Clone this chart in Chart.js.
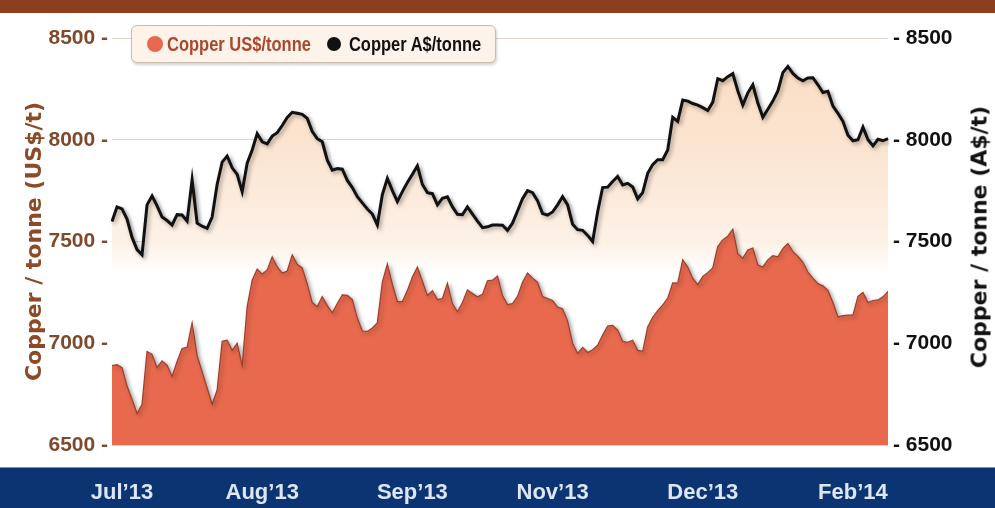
<!DOCTYPE html>
<html>
<head>
<meta charset="utf-8">
<script src="https://cdn.jsdelivr.net/npm/chart.js@4.4.1/dist/chart.umd.min.js"></script>
<style>
  body { margin: 0; background: #fff; }
  #wrap { position: relative; width: 995px; height: 508px; overflow: hidden; }
  #legend {
    position: absolute; left: 131px; top: 25px; width: 365px; height: 38px;
    box-sizing: border-box; background: #fdf3ea; border: 1px solid #cdbcaa;
    border-radius: 6px; box-shadow: 1px 2px 3px rgba(0,0,0,0.18);
    font: bold 16.5px "Liberation Sans", Arial, sans-serif; white-space: nowrap;
    display: flex; align-items: center; padding-left: 15px;
  }
  #legend .txt { display: inline-block; transform: scaleY(1.2); }
  .dot { display: inline-block; border-radius: 50%; }
  #rtitle {
    position: absolute; left: 979px; top: 237px;
    transform: translate(-50%, -50%) rotate(-90deg);
    white-space: nowrap; font: bold 22px "DejaVu Sans", sans-serif; color: #111;
  }
</style>
</head>
<body>
<div id="wrap">
  <canvas id="myChart"></canvas>
  <div id="legend">
    <span class="dot" style="width:16px;height:16px;background:#e8694e;margin-right:4px"></span>
    <span class="txt" style="color:#a9482b">Copper US$/tonne</span>
    <span class="dot" style="width:14px;height:14px;background:#111;margin-left:16px;margin-right:8px"></span>
    <span class="txt" style="color:#111">Copper A$/tonne</span>
  </div>
  <div id="rtitle">Copper / tonne (A$/t)</div>
</div>
<script>
// month labels and where they sit along the series
const tickLabels = ["Jul’13", "Aug’13", "Sep’13", "Nov’13", "Dec’13", "Feb’14"];
const tickAt = [2, 30, 60, 88, 118, 148];

const yMin = 6500;
const yMax = 8500;
const yStep = 500;

// copper price in US$ per tonne
const copperUsd = [
    6890, 6895, 6880, 6790, 6725, 6655, 6700, 6960, 6945, 6880,
    6913, 6893, 6837, 6910, 6974, 6980, 7100, 6940, 6860, 6780,
    6700, 6770, 7010, 7015, 6965, 7000, 6890, 7180, 7310, 7365,
    7340, 7360, 7425, 7375, 7345, 7355, 7435, 7388, 7370, 7292,
    7200, 7180, 7230, 7185, 7150, 7195, 7238, 7235, 7215, 7125,
    7060, 7058, 7075, 7100, 7300, 7390, 7290, 7205, 7205, 7260,
    7325, 7375, 7305, 7235, 7258, 7215, 7220, 7295, 7195, 7155,
    7200, 7262, 7245, 7228, 7240, 7307, 7310, 7330, 7235, 7190,
    7195, 7230, 7300, 7345, 7320, 7300, 7230, 7220, 7210, 7178,
    7170, 7110, 7000, 6950, 6980, 6955, 6968, 6990, 7040, 7085,
    7088, 7065, 7010, 7005, 7015, 6965, 6960, 7080, 7128, 7160,
    7188, 7222, 7297, 7295, 7410, 7375, 7320, 7288, 7328, 7347,
    7370, 7475, 7508, 7526, 7560, 7440, 7418, 7458, 7468, 7385,
    7375, 7410, 7430, 7425, 7465, 7490, 7450, 7428, 7398, 7350,
    7320, 7293, 7282, 7260, 7200, 7130, 7136, 7138, 7138, 7230,
    7250, 7200, 7210, 7213, 7228, 7255
];

// copper price in A$ per tonne
const copperAud = [
    7598, 7670, 7660, 7610, 7520, 7460, 7434, 7680, 7724, 7675,
    7620, 7603, 7581, 7632, 7630, 7600, 7803, 7590, 7575, 7565,
    7620, 7780, 7890, 7920, 7862, 7830, 7745, 7885, 7950, 8030,
    7990, 7980, 8018, 8035, 8070, 8110, 8135, 8130, 8125, 8105,
    8040, 8005, 7990, 7900, 7850, 7858, 7855, 7800, 7765, 7720,
    7690, 7660, 7635, 7581, 7730, 7810, 7750, 7696, 7745, 7790,
    7830, 7872, 7780, 7740, 7735, 7680, 7712, 7720, 7670, 7634,
    7632, 7670, 7635, 7600, 7568, 7572, 7581, 7581, 7580, 7555,
    7590, 7650, 7710, 7750, 7740, 7700, 7637, 7630, 7645, 7680,
    7720, 7680, 7585, 7558, 7555, 7530, 7500, 7645, 7765, 7767,
    7795, 7820, 7778, 7786, 7768, 7710, 7740, 7835, 7878, 7902,
    7902, 7950, 8110, 8090, 8195, 8190, 8178, 8170, 8158, 8144,
    8185, 8300, 8290, 8310, 8325, 8240, 8170, 8230, 8270, 8180,
    8110, 8150, 8190, 8240, 8330, 8360, 8326, 8303, 8290, 8304,
    8305, 8270, 8232, 8238, 8165, 8130, 8090, 8022, 7995, 8000,
    8062, 8000, 7970, 8002, 7995, 8005
];

let labels = [];
for (let i = 0; i < copperUsd.length; i++) {
    labels.push('');
}
tickAt.forEach((idx, k) => {
    labels[idx] = tickLabels[k];
});

// peach fade under the A$ line
function audFill(context){
    const chart = context.chart;
    const area = chart.chartArea;
    if(!area){
        return '#fbe4cf';
    }
    const g = chart.ctx.createLinearGradient(0, area.top, 0, area.bottom);
    g.addColorStop(0, '#f9dbbf');
    g.addColorStop(0.3, '#fbe6d3');
    g.addColorStop(0.5, '#fdf1e6');
    g.addColorStop(0.58, '#ffffff');
    g.addColorStop(1, '#ffffff');
    return g;
}

// header / footer bands and soft shadows on the series
const decor = {
    id: 'decor',
    beforeDraw(chart){
        const c = chart.ctx;
        c.save();
        c.fillStyle = '#8b3f1f';
        c.fillRect(0, 0, chart.width, 13);
        c.fillStyle = '#7d93b8';
        c.fillRect(0, 467, chart.width, 1);
        c.fillStyle = '#0c3473';
        c.fillRect(0, 468, chart.width, chart.height - 468);
        c.restore();
    },
    beforeDatasetsDraw(chart){
        const c = chart.ctx;
        c.save();
        c.shadowColor = 'rgba(0,0,0,0.35)';
        c.shadowBlur = 4;
        c.shadowOffsetX = 2;
        c.shadowOffsetY = 2;
    },
    afterDatasetsDraw(chart){
        chart.ctx.restore();
    }
};

const tickFont = { family: '"Liberation Sans", Arial, sans-serif', size: 21, weight: 'bold' };

const ctx = document.querySelector('#myChart').getContext('2d');
const myChart = new Chart(ctx, {
    type: 'line',
    data: {
        labels: labels,
        datasets: [
            {
                label: 'Copper US$/tonne',
                data: copperUsd,
                yAxisID: 'y',
                borderColor: '#9c3f2a',
                borderWidth: 1.2,
                backgroundColor: '#e8694e',
                fill: 'start',
                pointRadius: 0,
                tension: 0
            },
            {
                label: 'Copper A$/tonne',
                data: copperAud,
                yAxisID: 'y2',
                borderColor: '#111111',
                borderWidth: 3,
                backgroundColor: audFill,
                fill: 'start',
                pointRadius: 0,
                tension: 0
            }
        ]
    },
    options: {
        responsive: true,
        maintainAspectRatio: false,
        animation: false,
        devicePixelRatio: 1,
        layout: { padding: { top: 38, left: 0, right: 0, bottom: 0 } },
        plugins: {
            legend: { display: false },
            tooltip: { enabled: false }
        },
        scales: {
            x: {
                offset: false,
                grid: { display: false, drawTicks: false },
                border: { display: false },
                ticks: {
                    autoSkip: false,
                    maxRotation: 0,
                    minRotation: 0,
                    padding: 35,
                    color: '#dde6f3',
                    font: { family: '"Liberation Sans", Arial, sans-serif', size: 22, weight: 'bold' }
                },
                afterFit: scale => { scale.height = 63; }
            },
            y: {
                position: 'left',
                min: yMin,
                max: yMax,
                grid: { color: '#ddd5ce', lineWidth: 1, drawTicks: false },
                border: { display: false },
                ticks: {
                    stepSize: yStep,
                    padding: 4,
                    color: '#7d4a2c',
                    font: tickFont,
                    callback: v => v + ' -'
                },
                title: {
                    display: true,
                    text: 'Copper / tonne (US$/t)',
                    color: '#8c4a26',
                    padding: { top: 22, bottom: 0 },
                    font: { family: '"DejaVu Sans", sans-serif', size: 22, weight: 'bold' }
                },
                afterFit: scale => { scale.width = 112; }
            },
            y2: {
                position: 'right',
                min: yMin,
                max: yMax,
                grid: { drawOnChartArea: false, drawTicks: false },
                border: { display: false },
                ticks: {
                    stepSize: yStep,
                    padding: 5,
                    color: '#111111',
                    font: tickFont,
                    callback: v => '- ' + v
                },
                afterFit: scale => { scale.width = 107; }
            }
        }
    },
    plugins: [decor]
});
</script>
</body>
</html>
